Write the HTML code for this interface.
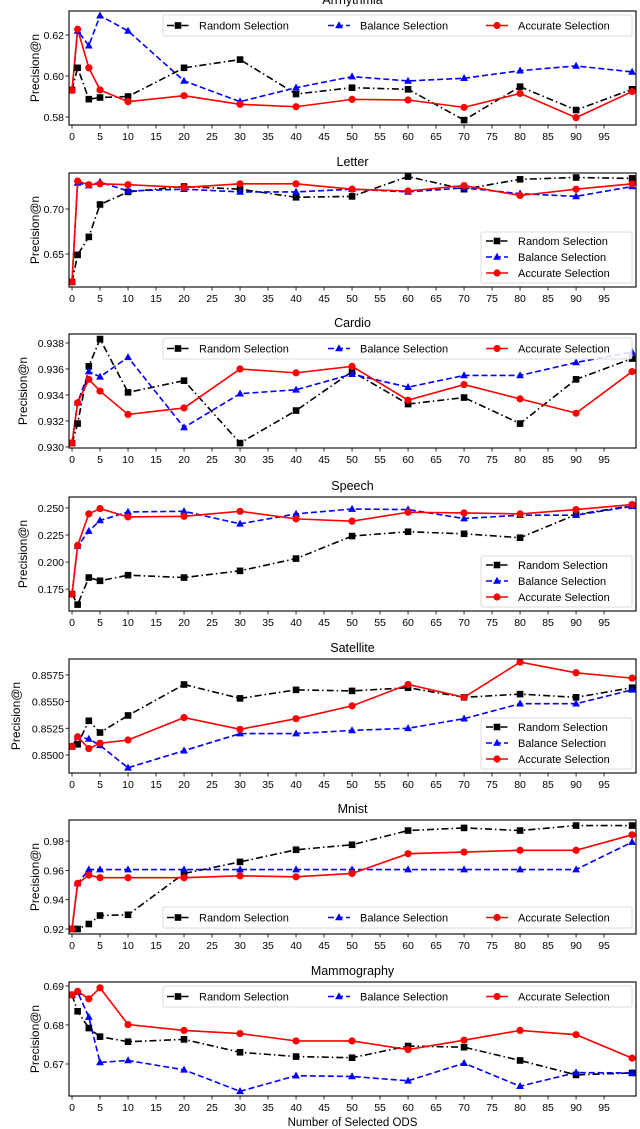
<!DOCTYPE html>
<html><head><meta charset="utf-8"><style>
html,body{margin:0;padding:0;background:#fff;}
svg{display:block;font-family:"Liberation Sans",sans-serif;}
</style></head><body>
<svg id="fig" width="640" height="1129" viewBox="0 0 640 1129" xmlns="http://www.w3.org/2000/svg"></svg>
<script>
const xCats = [0,1,3,5,10,20,30,40,50,60,70,80,90,100];
const xTicks = [0,5,10,15,20,25,30,35,40,45,50,55,60,65,70,75,80,85,90,95];
const seriesNames = ["Random Selection","Balance Selection","Accurate Selection"];
const panelTitles = ["Arrhythmia","Letter","Cardio","Speech","Satellite","Mnist","Mammography"];

const arrRandom = [0.5932,0.604,0.5887,0.5895,0.590,0.604,0.608,0.5912,0.5943,0.5935,0.5785,0.5948,0.5834,0.5935];
const arrBalance = [0.593,0.622,0.6148,0.6294,0.622,0.5976,0.5875,0.5943,0.5997,0.5976,0.5989,0.6026,0.6049,0.602];
const arrAccurate = [0.593,0.6228,0.604,0.5932,0.5875,0.5904,0.5862,0.585,0.5886,0.5883,0.5847,0.5915,0.5797,0.5924];

const letRandom = [0.619,0.649,0.669,0.705,0.719,0.725,0.722,0.713,0.714,0.736,0.722,0.733,0.735,0.734];
const letBalance = [0.619,0.729,0.726,0.730,0.720,0.722,0.719,0.719,0.722,0.719,0.7235,0.717,0.714,0.725];
const letAccurate = [0.619,0.731,0.727,0.728,0.727,0.724,0.728,0.728,0.722,0.720,0.726,0.715,0.722,0.728];

const carRandom = [0.9303,0.9318,0.9362,0.9383,0.9342,0.9351,0.9303,0.9328,0.9358,0.9333,0.9338,0.9318,0.9352,0.9368];
const carBalance = [0.9303,0.9334,0.9358,0.9354,0.9369,0.9315,0.9341,0.9344,0.9356,0.9346,0.9355,0.9355,0.9365,0.9373];
const carAccurate = [0.9303,0.9334,0.9352,0.9343,0.9325,0.9330,0.9360,0.9357,0.9362,0.9336,0.9348,0.9337,0.9326,0.9358];

const spRandom = [0.1704,0.1607,0.1857,0.1827,0.1879,0.1857,0.1919,0.2032,0.224,0.228,0.2261,0.2225,0.2439,0.252];
const spBalance = [0.1704,0.2148,0.2286,0.2384,0.2463,0.2469,0.2353,0.2445,0.249,0.2485,0.2402,0.2433,0.2433,0.2515];
const spAccurate = [0.1704,0.2154,0.2445,0.2494,0.2417,0.2423,0.2469,0.2399,0.2378,0.246,0.2454,0.2445,0.2485,0.2531];

const satRandom = [0.8508,0.8510,0.8532,0.8521,0.8537,0.8566,0.8553,0.8561,0.8560,0.8563,0.8554,0.8557,0.8554,0.8563];
const satBalance = [0.8508,0.8517,0.8515,0.8509,0.8488,0.8504,0.8520,0.8520,0.8523,0.8525,0.8534,0.8548,0.8548,0.8561];
const satAccurate = [0.8508,0.8517,0.8506,0.8511,0.8514,0.8535,0.8524,0.8534,0.8546,0.8566,0.8554,0.8587,0.8577,0.8572];

const mnRandom = [0.920,0.920,0.9234,0.9292,0.9297,0.9579,0.9658,0.9741,0.9775,0.9872,0.9890,0.9872,0.9906,0.9906];
const mnBalance = [0.920,0.9511,0.9606,0.9606,0.9606,0.9606,0.9606,0.9606,0.9606,0.9606,0.9606,0.9606,0.9606,0.9793];
const mnAccurate = [0.920,0.9511,0.9568,0.955,0.955,0.955,0.9563,0.9556,0.9579,0.9714,0.9725,0.9737,0.9737,0.9843];

const mamRandom = [0.6877,0.6835,0.6792,0.677,0.6757,0.6763,0.673,0.6719,0.6716,0.6746,0.6743,0.6709,0.6672,0.6677];
const mamBalance = [0.6877,0.6884,0.682,0.6704,0.6709,0.6685,0.663,0.667,0.6668,0.6657,0.6702,0.6643,0.6678,0.6677];
const mamAccurate = [0.6877,0.6886,0.6867,0.6895,0.6801,0.6786,0.6778,0.6759,0.6759,0.6737,0.6761,0.6786,0.6775,0.6715];

const yTicks1 = [0.58,0.60,0.62];
const yTicks2 = [0.65,0.70];
const yTicks3 = [0.930,0.932,0.934,0.936,0.938];
const yTicks4 = [0.175,0.200,0.225,0.250];
const yTicks5 = [0.8500,0.8525,0.8550,0.8575];
const yTicks6 = [0.92,0.94,0.96,0.98];
const yTicks7 = [0.67,0.68,0.69];

const NS = "http://www.w3.org/2000/svg";
const svg = document.getElementById('fig');
function mk(tag, attrs, parent){ const e=document.createElementNS(NS,tag); for(const k in attrs) e.setAttribute(k,attrs[k]); (parent||svg).appendChild(e); return e; }

const X0=69, X1=636, XMIN=-0.54, XMAX=100.7;
function xs(v){ return X0 + (v-XMIN)/(XMAX-XMIN)*(X1-X0); }

const panels = [
 {top:11, yMin:0.5761, yMax:0.6317, ticks:yTicks1, dec:2, data:[arrRandom,arrBalance,arrAccurate], legend:'top', ylx:30},
 {top:173, yMin:0.6133, yMax:0.740, ticks:yTicks2, dec:2, data:[letRandom,letBalance,letAccurate], legend:'right', ylx:30},
 {top:334, yMin:0.92992, yMax:0.93869, ticks:yTicks3, dec:3, data:[carRandom,carBalance,carAccurate], legend:'top', ylx:18},
 {top:497, yMin:0.1548, yMax:0.2601, ticks:yTicks4, dec:3, data:[spRandom,spBalance,spAccurate], legend:'right', ylx:18},
 {top:659, yMin:0.84831, yMax:0.85899, ticks:yTicks5, dec:4, data:[satRandom,satBalance,satAccurate], legend:'right', ylx:11},
 {top:820, yMin:0.91659, yMax:0.9944, ticks:yTicks6, dec:2, data:[mnRandom,mnBalance,mnAccurate], legend:'bottom', ylx:30},
 {top:982, yMin:0.6618, yMax:0.6910, ticks:yTicks7, dec:2, data:[mamRandom,mamBalance,mamAccurate], legend:'top', ylx:30}
];
const H=114;
const colors=['#000000','#0000ff','#ff0000'];
const dashes=['7,3,1.5,3','6,3','none'];
const keys=['random','balance','accurate'];

function marker(g, k, cx, cy){
  let m;
  if(k===0) m=mk('rect',{x:cx-3.3,y:cy-3.3,width:6.6,height:6.6,fill:colors[0]},g);
  else if(k===1) m=mk('polygon',{points:`${cx},${cy-4.2} ${cx+3.9},${cy+2.8} ${cx-3.9},${cy+2.8}`,fill:colors[1]},g);
  else m=mk('circle',{cx:cx,cy:cy,r:3.6,fill:colors[2]},g);
  return m;
}

panels.forEach((p,pi)=>{
  const top=p.top, bot=top+H;
  const ys = v => bot - (v-p.yMin)/(p.yMax-p.yMin)*H;
  const g=mk('g',{});
  
  
  const cp=mk('clipPath',{id:'clip'+pi},g);
  mk('rect',{x:X0,y:top,width:X1-X0,height:H},cp);
  // title
  const t=mk('text',{x:(X0+X1)/2,y:top-7,'text-anchor':'middle','font-size':12.5,fill:'#000'},g);
  t.textContent=panelTitles[pi];
  
  
  // y label
  const yl=mk('text',{x:0,y:0,transform:`translate(${p.ylx+9},${top+H/2}) rotate(-90)`,'text-anchor':'middle','font-size':12,fill:'#000'},g);
  yl.textContent='Precision@n';
  
  
  // y ticks
  p.ticks.forEach(v=>{
    const y=ys(v);
    mk('line',{x1:X0-3.5,x2:X0,y1:y,y2:y,stroke:'#000','stroke-width':0.8},g);
    const tl=mk('text',{x:X0-5,y:y+4,'text-anchor':'end','font-size':10.5,fill:'#000'},g);
    tl.textContent=v.toFixed(p.dec);
    
    
  });
  // x ticks
  xTicks.forEach(v=>{
    const x=xs(v);
    mk('line',{x1:x,x2:x,y1:bot,y2:bot+3.5,stroke:'#000','stroke-width':0.8},g);
    const tl=mk('text',{x:x,y:bot+15,'text-anchor':'middle','font-size':10.5,fill:'#000'},g);
    tl.textContent=String(v);
    
    
  });
  // series
  const sg=mk('g',{'clip-path':`url(#clip${pi})`},g);
  p.data.forEach((arr,k)=>{
    const pts=arr.map((v,i)=>`${xs(xCats[i]).toFixed(2)},${ys(v).toFixed(2)}`).join(' ');
    const pl=mk('polyline',{points:pts,fill:'none',stroke:colors[k],'stroke-width':1.6,'stroke-dasharray':dashes[k]},sg);
    
    
  });
  p.data.forEach((arr,k)=>{
    arr.forEach((v,i)=>{
      const m=marker(sg,k,xs(xCats[i]),ys(v));
      
      
    });
  });
  // frame
  const fr=mk('rect',{x:X0,y:top,width:X1-X0,height:H,fill:'none',stroke:'#000','stroke-width':1.1},g);
  
  
  // legend
  const lg=mk('g',{},g);
  
  
  let entries=[];
  if(p.legend==='top'||p.legend==='bottom'){
    const ly = p.legend==='top'? top+4 : bot-27;
    mk('rect',{x:163,y:ly,width:469,height:21,rx:2,fill:'#fff','fill-opacity':0.85,stroke:'#d0d0d0','stroke-width':0.8},lg);
    const lx=[167,328,486];
    seriesNames.forEach((n,k)=>entries.push({x:lx[k],y:ly+10.5,k:k,n:n}));
  } else {
    const ly = bot-55;
    mk('rect',{x:481,y:ly,width:151,height:51,rx:2,fill:'#fff','fill-opacity':0.85,stroke:'#d0d0d0','stroke-width':0.8},lg);
    seriesNames.forEach((n,k)=>entries.push({x:486,y:ly+9+k*16,k:k,n:n}));
  }
  entries.forEach(e=>{
    const eg=mk('g',{},lg);
    
    
    mk('line',{x1:e.x,x2:e.x+22,y1:e.y,y2:e.y,stroke:colors[e.k],'stroke-width':1.6,'stroke-dasharray':dashes[e.k]},eg);
    marker(eg,e.k,e.x+11,e.y);
    const tx=mk('text',{x:e.x+32,y:e.y+4,'font-size':11,fill:'#000'},eg);
    tx.textContent=e.n;
  });
});
const xl=mk('text',{x:(X0+X1)/2,y:1126,'text-anchor':'middle','font-size':11.5,fill:'#000'});
xl.textContent='Number of Selected ODS';


</script>
</body></html>
